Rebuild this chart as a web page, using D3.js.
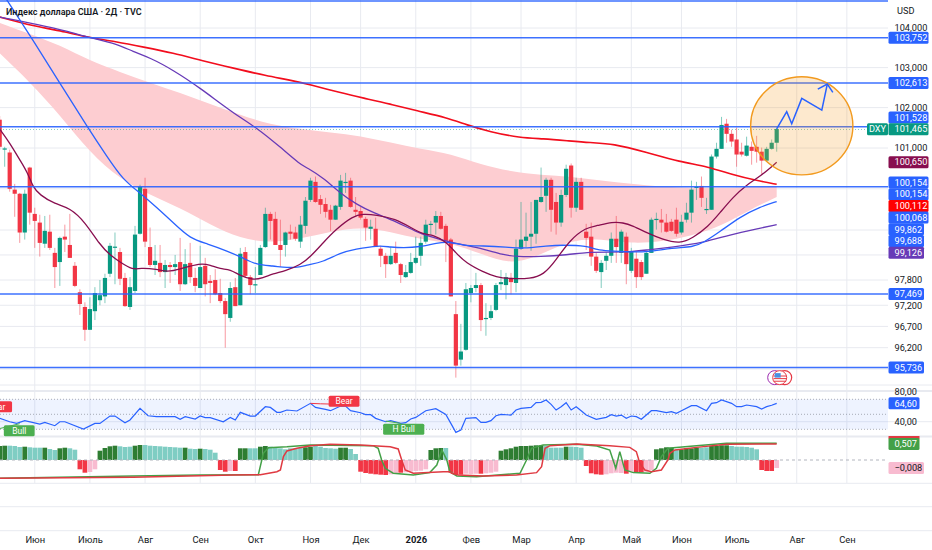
<!DOCTYPE html>
<html>
<head>
<meta charset="utf-8">
<script src="https://cdn.jsdelivr.net/npm/d3@7"></script>
<style>
  html, body { margin: 0; padding: 0; background: #fff; }
  text { font-family: Roboto, "Noto Sans", sans-serif; fill: #131722; }
</style>
</head>
<body>
<div id="chart"></div>
<script>
// bars are numbered from the first one in view
const firstBar = -2

const opens = [
  101.70,100.96,100.89,99.98,99.88,98.94,100.52,99.39,99.18,98.67,
  98.96,98.45,98.23,98.84,98.64,98.14,97.51,97.16,96.62,97.06,
  97.32,97.41,97.95,98.59,98.47,97.85,97.16,97.54,98.91,100.00,
  98.59,98.16,98.21,97.99,98.16,98.11,98.23,97.70,98.21,97.85,
  97.61,98.14,97.78,97.80,97.49,97.30,96.90,97.63,97.20,98.47,
  97.87,97.68,97.92,98.59,99.39,99.27,98.64,98.64,98.96,98.94,
  98.72,99.10,99.73,100.17,99.75,99.63,99.49,99.25,99.56,100.16,
  100.20,99.49,99.46,99.27,99.03,99.03,98.55,98.38,98.18,98.45,
  98.18,97.87,97.97,98.21,98.38,98.72,99.13,99.18,99.34,99.10,
  98.77,96.99,95.92,96.15,97.49,97.61,97.68,96.89,96.90,97.09,
  97.70,97.68,97.85,97.73,98.55,98.74,98.84,98.91,99.68,99.83,
  100.22,99.68,99.18,99.85,100.57,99.54,100.17,98.96,98.84,98.36,
  97.99,98.26,98.38,98.79,98.45,98.84,98.02,98.31,98.23,97.95,
  98.45,99.25,99.25,99.18,99.20,99.25,98.94,99.25,99.42,100.03,
  100.07,99.50,99.49,100.79,100.98,101.60,101.35,101.21,100.91,100.81,
  101.03,101.03,100.91,100.69,100.98,101.13,
]
const closes = [
  101.03,100.99,100.00,99.88,98.94,99.88,99.42,99.22,98.69,98.98,
  98.57,98.11,98.81,98.77,98.33,97.66,97.23,96.62,97.11,97.49,
  97.44,97.85,98.62,98.60,97.83,97.18,97.63,98.89,100.05,98.72,
  98.16,98.26,97.99,98.16,98.11,98.18,97.70,98.18,97.87,97.66,
  98.11,97.70,97.73,97.46,97.30,96.99,97.61,97.18,98.43,97.90,
  97.68,97.70,98.57,99.39,99.22,98.64,98.52,98.94,98.91,98.79,
  99.13,99.71,100.20,99.68,99.61,99.44,99.25,99.59,100.20,100.17,
  99.56,99.44,99.30,99.06,99.08,98.59,98.38,98.18,98.38,98.21,
  97.92,97.99,98.23,98.33,98.69,99.13,99.15,99.34,99.03,98.74,
  97.41,95.78,96.11,97.58,97.61,97.68,96.85,96.90,97.06,97.68,
  97.75,97.87,97.75,98.55,98.77,98.84,98.91,99.73,99.80,100.22,
  99.49,99.18,99.85,100.49,99.54,100.17,99.49,98.81,98.36,98.02,
  98.21,98.38,98.79,98.59,98.96,98.18,98.47,97.87,97.87,98.45,
  99.25,99.27,99.18,98.96,98.98,98.91,99.20,99.42,99.98,100.05,
  99.78,99.51,100.79,100.98,101.57,101.35,101.16,100.84,100.84,101.06,
  100.93,100.91,100.69,100.98,101.13,101.47,
]
const highs = [
  101.79,101.03,100.96,100.12,99.90,99.98,100.54,99.54,99.37,99.34,
  99.37,98.57,98.84,99.13,99.39,98.23,97.58,97.27,97.39,97.63,
  97.80,97.95,98.69,98.94,98.57,97.97,97.87,99.10,100.10,100.27,
  99.06,98.64,98.64,98.28,98.23,98.40,98.81,98.54,98.69,98.09,
  98.62,98.33,97.92,98.06,97.83,97.37,97.75,97.85,98.57,98.59,
  97.92,98.11,98.64,99.54,99.44,99.44,99.25,98.96,99.13,99.08,
  99.34,99.80,100.27,100.30,99.85,99.78,99.61,99.61,100.34,100.39,
  100.27,99.80,99.56,99.32,99.25,99.30,98.62,98.45,98.59,98.72,
  98.21,98.16,98.45,98.84,98.84,99.25,99.22,99.46,99.44,99.15,
  98.81,97.30,96.76,97.73,97.68,97.97,97.73,97.25,97.20,97.73,
  98.04,97.97,97.97,98.77,99.68,99.42,99.68,99.73,100.52,100.27,
  100.27,99.90,99.98,100.59,100.62,100.27,100.27,99.15,99.18,98.45,
  98.28,98.47,98.94,99.34,99.01,98.94,98.57,98.47,98.28,98.47,
  99.30,99.42,99.51,99.39,99.27,99.54,99.37,99.66,100.20,100.17,
  100.30,99.78,100.84,101.13,101.77,101.72,101.45,101.50,101.13,101.28,
  101.16,101.30,101.01,101.03,101.21,101.50,
]
const lows = [
  100.96,100.54,99.93,99.32,98.69,98.77,99.13,98.57,98.36,98.57,
  98.52,97.61,97.66,98.47,98.33,97.63,96.97,96.36,96.62,96.85,
  97.20,97.25,97.87,97.70,97.68,97.16,97.09,97.49,98.89,98.59,
  98.11,97.92,97.87,97.61,97.73,97.92,97.54,97.68,97.73,97.51,
  97.61,97.41,97.25,97.44,97.25,96.20,96.81,97.18,97.20,97.87,
  97.46,97.49,97.92,98.57,98.77,98.64,98.11,98.36,98.77,98.74,
  98.57,98.91,99.68,99.66,99.39,99.30,98.98,99.25,99.49,99.90,
  99.54,99.32,99.25,98.74,98.77,98.59,98.11,97.85,98.16,98.18,
  97.73,97.85,97.95,98.18,98.14,98.67,98.89,98.89,99.01,98.23,
  97.41,95.50,95.78,96.13,97.27,97.51,96.59,96.48,96.85,97.06,
  97.56,97.34,97.46,97.51,98.52,98.59,98.50,98.67,99.66,99.44,
  98.96,98.89,99.08,99.80,99.30,99.44,99.49,98.52,98.14,97.97,
  97.61,98.04,98.21,98.21,98.21,97.70,97.97,97.61,97.80,97.95,
  98.45,99.01,98.94,98.94,98.96,98.84,98.89,99.18,99.18,99.73,
  99.56,99.39,99.49,100.74,100.98,101.13,101.03,100.54,100.79,100.79,
  100.59,100.64,100.37,100.66,100.96,100.91,
]

// moving averages as [bar, price]
const maShort = [[-2,101.47],[0,101.13],[2,100.71],[3.6,100.39],[4.6,100.05],[6,99.85],[9,99.63],[12,99.54],[15,99.20],[18,98.64],[20,98.40],[22,98.23],[24.6,98.04],[26,98.09],[29.4,98.06],[31.4,97.99],[34,98.06],[38,98.21],[40,98.16],[42,98.06],[44,98.06],[46,97.90],[48.5,97.80],[50.5,97.85],[52.5,97.95],[55,98.02],[58,98.16],[60,98.36],[62.5,98.69],[65,99.01],[68.5,99.34],[70.5,99.39],[73,99.37],[77,99.27],[80,99.06],[82.5,98.89],[84.5,98.89],[87,98.72],[89,98.45],[91,98.21],[94.5,97.99],[97,97.87],[100,97.83],[103.8,97.83],[106.5,97.92],[109,98.28],[111.8,98.77],[115,99.06],[117,99.10],[120.3,99.20],[122.3,99.18],[124.3,99.10],[127,98.94],[130.3,98.77],[133.7,98.67],[136.3,98.81],[139.3,99.08],[141.7,99.42],[144.3,99.80],[147,100.10],[149.7,100.30],[153,100.65]]
const maMid = [[-2,104.97],[-0.5,104.71],[4.6,103.70],[10,102.61],[15.6,101.50],[19.4,100.79],[22.6,100.22],[26,99.90],[29.4,99.54],[32.6,99.18],[36,98.79],[39.4,98.67],[43.3,98.50],[46.5,98.33],[49.3,98.16],[52.5,98.14],[55.3,98.09],[58,98.11],[59.3,98.16],[62.5,98.23],[65.9,98.45],[69.3,98.55],[71.9,98.59],[73.9,98.62],[75.9,98.59],[78.5,98.57],[81.8,98.59],[85.2,98.69],[87.8,98.72],[90.4,98.62],[94.4,98.62],[99.2,98.59],[102.4,98.55],[107.2,98.62],[110.4,98.64],[115.2,98.62],[117.2,98.52],[119.2,98.50],[123.7,98.47],[127.1,98.47],[132.3,98.57],[136.3,98.59],[138.3,98.69],[141.7,98.96],[145.7,99.32],[149.7,99.56],[153,99.69]]
const maLong = [[-2,104.28],[6,104.08],[11.4,103.92],[16,103.75],[21.4,103.60],[24.6,103.40],[28,103.25],[32.6,102.94],[38,102.49],[44.5,101.87],[49.3,101.50],[53.9,101.03],[58,100.59],[59.3,100.52],[62.5,100.27],[65.9,99.90],[69.3,99.61],[72.5,99.42],[77.3,99.20],[81.2,98.94],[85.8,98.77],[90.4,98.64],[94.4,98.55],[98.4,98.40],[101.2,98.36],[105.8,98.36],[111.2,98.40],[115.2,98.47],[119.2,98.47],[123.7,98.47],[127.1,98.52],[132.3,98.59],[138.3,98.69],[143.7,98.89],[149.1,99.03],[153,99.13]]
const maSlow = [[-2,104.28],[4.6,104.05],[11.4,103.90],[16,103.75],[21.4,103.65],[26.6,103.52],[32.6,103.37],[38.5,103.17],[44.5,102.99],[51.3,102.79],[55.9,102.69],[60,102.57],[66,102.37],[70.5,102.24],[75.9,102.09],[81.2,101.92],[87.2,101.75],[91.2,101.57],[95.8,101.40],[101.8,101.25],[106.4,101.23],[111.2,101.18],[115.8,101.13],[120.3,101.11],[127.1,100.89],[133.7,100.66],[139.3,100.54],[144.3,100.34],[149.1,100.20],[153,100.11]]

// pink cloud: bar, top, bottom
const cloudBars = [-2,4,10,16,22,28,34,40,46,52,58,64,70,76,82,88,94,100,106,112,118,124,130,136,142,148,153]
const cloudTop = [104.13,103.85,103.57,103.17,102.89,102.62,102.37,102.09,101.82,101.58,101.47,101.38,101.30,101.13,100.98,100.86,100.59,100.42,100.34,100.30,100.20,100.12,100.05,100.02,100.02,100.05,100.05]
const cloudBottom = [103.36,102.64,101.82,100.89,100.24,99.85,99.54,99.13,98.79,98.69,98.79,98.96,99.08,98.96,98.77,98.69,98.43,98.16,98.40,98.77,98.79,98.67,98.72,98.86,99.10,99.51,99.80]

const levels = [104.69,103.752,102.613,101.528,100.05,97.469,95.736]
const projection = [[153,101.47],[155,101.90],[156,101.60],[158,102.23],[162,101.94],[163.1,102.59]]
const arrowHead = [[161.2,102.46],[163.1,102.59],[164.2,102.38]]
const targetZone = {barFrom: 147.8, barTo: 168.2, priceTop: 102.77, priceBottom: 100.34}

const priceTicks = [104,103,102,101,97.8,97.2,96.7,96.2]
const priceGrid = [104,103,102,101,100,99,98.4,97.8,97.2,96.7,96.2,95.7]

// price scale tags: value, text on right, kind
const priceTags = [103.752,102.613,101.528,101.465,100.650,100.154,100.154,100.112,100.068,99.862,99.688,99.126,97.469,95.736]
const priceTagKinds = ['level','level','level','last','short','level','level','slow','level','mid','mid','long','level','level']

const monthBars = [5,16,27,38,49,60,70,81,92,102,113,124,134,145,157,167]
const monthNames = ['Июн','Июль','Авг','Сен','Окт','Ноя','Дек','2026','Фев','Мар','Апр','Май','Июн','Июль','Авг','Сен']

const rsi = [[-2,44.6],[0,40.1],[1.4,37.9],[3,41.5],[6,37],[7,39.3],[9,34.8],[10,40.1],[11,40.1],[14.7,30.4],[17,37.9],[18,37.9],[20,47.7],[21,47.7],[23,38.8],[24,42.4],[26,57.9],[27.6,48.1],[29.3,46.8],[33,46.8],[34,43.3],[35,46.8],[37,43.7],[38,47.7],[39,45.5],[40,45.5],[42.6,40.1],[44,45.9],[45,42.4],[46,52.6],[48,47.7],[49,47.7],[51,60.1],[52,59.2],[53.3,52.6],[54,52.6],[55.3,55.7],[57.3,54.4],[60,64.6],[61,59.2],[63,56.6],[64,54.8],[66,61],[67,61],[68,54.8],[70,52.1],[71,49.5],[72,49.5],[73,44.6],[75,40.1],[76,41.5],[78,37.9],[79,38.8],[80,43.7],[81,45.9],[83,54.8],[85,57.5],[87,49.9],[88,37.9],[89,25.9],[90,29],[91,44.6],[93,45.5],[94,39.3],[95,39.3],[96,41.5],[97,48.1],[98,49.9],[100,49],[101,55.7],[102,57.9],[104,59.2],[105,65.5],[106,65.9],[107,69],[108,63.3],[109,55.7],[110,60.1],[111,65.5],[112,55.7],[113,60.1],[114,54.8],[115,49],[117,43.3],[119,45.9],[120,49.5],[121,47.7],[122,49],[123,44.6],[124,47.7],[125,46.8],[126,43.3],[128,54.8],[129,54.8],[131,52.2],[132,53.5],[133,51.3],[134,54.8],[136,61.5],[137,61.5],[139,54.8],[140,64.6],[141,65.5],[142,69.1],[144,64.6],[145,60.2],[146,60.2],[147,62.4],[149,60.2],[150,57.1],[151,60.2],[152,62],[153,64.6]]
const rsiTicks = [80,40]
const rsiBands = [70,50,30]

const histValues = [
  .014,.0143,.0143,.014,.013,.0133,.0127,.0123,.0123,.0123,
  .011,.010,.0117,.0123,.0117,.0103,-.0093,-.0127,-.012,-.0093,
  .0093,.012,.0137,.0143,.0137,.013,.0133,.0143,.015,.015,
  .0143,.014,.0137,.0133,.013,.0127,.0123,.0123,.0113,.011,
  .0113,.011,.0103,.0073,-.010,-.0117,-.011,-.011,.0117,.0117,
  .0117,.0117,.0133,.014,.0133,.0123,.0117,.0107,.0117,.0117,
  .012,.0127,.0133,.014,.0133,.012,.0117,.0113,.0123,.0123,
  .011,.006,-.0117,-.013,-.0137,-.0143,-.0147,-.015,-.0143,-.0133,
  -.0127,-.0123,-.0117,-.011,-.0107,-.0093,.010,.0117,.012,.012,
  -.0127,-.0143,-.0147,-.0137,-.014,-.0137,-.0137,-.0133,-.0127,-.0117,
  .0093,.0107,.0117,.0133,.014,.014,.0143,.0147,.0147,.014,
  .0123,.0123,.0123,.0133,.0133,.013,.0123,-.006,-.0133,-.0143,
  -.0147,-.0143,-.0133,-.0127,-.013,-.0137,-.0117,-.0123,-.0123,-.0117,
  -.010,.0107,.0117,.0127,.0123,.010,.0107,.0117,.0117,.0123,
  .0123,.0127,.014,.014,.0147,.0147,.014,.0133,.0133,.013,
  .0123,.0107,-.010,-.011,-.011,-.008,
]
// u strong up, f fading up, d strong down, e easing down
const histKinds = (
  'uufffufffu' + 'ffuuffddee' + 'uuuufffuuf' + 'fffffffuff' + 'ufffddeduu' +
  'ffuuffffff' + 'fuufffffuu' + 'ffddddddee' + 'deeeeeuuuf' + 'dddeeedeee' +
  'uuuuuuuuuf' + 'fffufffddd' + 'deeeededde' + 'euuuufuuuu' + 'ffuuuuffff' + 'ffddde'
).split('')

const osciRed = [[-2,-.58],[24.6,-.55],[44.6,-.475],[50,-.465],[53.3,-.37],[54,-.316],[54.6,.106],[55.3,.286],[57.3,.37],[60,.455],[63.9,.497],[69.9,.476],[75.9,.42],[77.5,.35],[78.2,0],[78.9,-.316],[80.5,-.42],[86.5,-.369],[87.7,-.369],[88.2,-.42],[89.5,-.475],[94.5,-.506],[101.1,-.475],[105.1,-.4],[106.1,-.21],[106.8,.37],[107.8,.455],[113.1,.507],[119.7,.455],[123.7,.40],[125,.265],[125.7,-.105],[126.7,-.316],[128,-.369],[130,-.316],[131.3,0],[131.7,.212],[132.7,.318],[137,.40],[143,.497],[153,.507]]
const osciGreen = [[-2,-.58],[24.6,-.51],[38,-.475],[49.6,-.465],[50.6,.21],[51.6,.39],[55.3,.42],[60,.476],[72.5,.455],[73.5,.37],[74.2,0],[74.9,-.263],[76.5,-.42],[80.5,-.475],[83.8,-.4],[85.2,-.158],[86.2,.317],[87.2,0],[87.8,-.369],[89.2,-.506],[93.1,-.527],[101.8,-.42],[103.1,0],[104.1,.37],[106.4,.476],[113.1,.497],[117.1,.44],[119.7,.317],[120.9,-.263],[121.7,.265],[122.7,-.316],[124.4,-.40],[127.7,-.42],[129,-.263],[130,.107],[131.3,.37],[137,.455],[143,.53],[153,.53]]

const rsiNotes = [
  {text: 'Bear', bar: -2.6, value: 60, kind: 'bear'},
  {text: 'Bull', bar: 1.9, value: 28, kind: 'bull'},
  {text: 'Bear', bar: 66.7, value: 67.5, kind: 'bear'},
  {text: 'H Bull', bar: 78.6, value: 30, kind: 'bull'},
]
const bearLine = [[60,64.6],[62,64],[65,63.5]]
const bullLine = [[-2,31],[2,37.5]]
const hullLine = [[75,41],[78,37.9]]

const W = 932
const H = 550
const plotRight = 888

const colors = {
  up: '#089981', down: '#f23645', level: '#2962ff', grid: '#e8eaf0',
  short: '#880e4f', mid: '#2962ff', long: '#673ab7', slow: '#f20d1d',
  cloud: '#fdcdd1',
}
const histColors = {u: '#2e7d32', f: '#7fcdc3', d: '#f23645', e: '#f8bbd0'}
const tagColors = {level: '#2962ff', last: '#089981', short: '#880e4f', slow: '#ff0000', mid: '#2962ff', long: '#673ab7'}

const x = d3.scaleLinear().domain([0, 100]).range([9.7, 511])
const yPrice = d3.scaleLog().domain([104, 95.736]).range([28, 367.5])
const yRsi = d3.scaleLinear().domain([70, 30]).range([399.3, 429.3])
const yHist = d3.scaleLinear().domain([0, -0.008]).range([460, 468])
const yOsci = d3.scaleLinear().domain([0, 0.507]).range([460, 444])

const comma = (v, digits) => d3.format(`.${digits}f`)(v).replace('.', ',')

const svg = d3.select('#chart').append('svg').attr('width', W).attr('height', H).style('display', 'block')

svg.append('clipPath').attr('id', 'plot').append('rect').attr('width', plotRight).attr('height', H)

// grids
const grid = svg.append('g').attr('stroke', colors.grid)
grid.selectAll('line.h').data(priceGrid).enter().append('line')
  .attr('x1', 0).attr('x2', plotRight)
  .attr('y1', d => yPrice(d)).attr('y2', d => yPrice(d))
grid.selectAll('line.v').data(monthBars).enter().append('line')
  .attr('x1', d => x(d)).attr('x2', d => x(d))
  .attr('y1', 0).attr('y2', 483)
;[385, 391, 421.7, 436.5, 483.3, 506.7, 530.7].forEach(v => {
  grid.append('line').attr('x1', 0).attr('x2', W).attr('y1', v).attr('y2', v)
    .attr('stroke-width', v === 391 || v === 436.5 ? 2 : 1)
})

const plot = svg.append('g').attr('clip-path', 'url(#plot)')

// cloud under everything
const cloudArea = d3.area()
  .x((d, i) => x(d))
  .y0((d, i) => yPrice(cloudBottom[i]))
  .y1((d, i) => yPrice(cloudTop[i]))
  .curve(d3.curveBasis)
plot.append('path').attr('d', cloudArea(cloudBars)).attr('fill', colors.cloud)

// candles
const bars = opens.map((o, i) => ({bar: firstBar + i, o, c: closes[i], h: highs[i], l: lows[i]}))
const candle = plot.selectAll('g.candle').data(bars).enter().append('g').attr('class', 'candle')
candle.append('line')
  .attr('x1', d => x(d.bar)).attr('x2', d => x(d.bar))
  .attr('y1', d => yPrice(d.h)).attr('y2', d => yPrice(d.l))
  .attr('stroke', d => (d.c >= d.o ? colors.up : colors.down))
  .attr('stroke-opacity', 0.5)
candle.append('rect')
  .attr('x', d => x(d.bar) - 2.1).attr('width', 4.2)
  .attr('y', d => yPrice(Math.max(d.o, d.c)))
  .attr('height', d => Math.max(1.2, yPrice(Math.min(d.o, d.c)) - yPrice(Math.max(d.o, d.c))))
  .attr('fill', d => (d.c >= d.o ? colors.up : colors.down))

// moving averages
const priceLine = d3.line().x(d => x(d[0])).y(d => yPrice(d[1])).curve(d3.curveBasis)
const drawMa = (data, color, width) =>
  plot.append('path').attr('d', priceLine(data)).attr('fill', 'none')
    .attr('stroke', color).attr('stroke-width', width)
drawMa(maSlow, colors.slow, 1.6)
drawMa(maLong, colors.long, 1.3)
drawMa(maMid, colors.mid, 1.3)
drawMa(maShort, colors.short, 1.3)

// horizontal levels
plot.selectAll('line.level').data(levels).enter().append('line')
  .attr('x1', 0).attr('x2', plotRight)
  .attr('y1', d => yPrice(d)).attr('y2', d => yPrice(d))
  .attr('stroke', colors.level).attr('stroke-opacity', 0.9).attr('stroke-width', 1.5)

// last price dotted line
plot.append('line')
  .attr('x1', 0).attr('x2', plotRight)
  .attr('y1', yPrice(closes[closes.length - 1]) + 0.5).attr('y2', yPrice(closes[closes.length - 1]) + 0.5)
  .attr('stroke', colors.up).attr('stroke-opacity', 0.5).attr('stroke-dasharray', '1 2')

// target zone
const zoneX = (x(targetZone.barFrom) + x(targetZone.barTo)) / 2
const zoneY = (yPrice(targetZone.priceTop) + yPrice(targetZone.priceBottom)) / 2
plot.append('ellipse')
  .attr('cx', zoneX).attr('cy', zoneY)
  .attr('rx', (x(targetZone.barTo) - x(targetZone.barFrom)) / 2)
  .attr('ry', (yPrice(targetZone.priceBottom) - yPrice(targetZone.priceTop)) / 2)
  .attr('fill', '#f59d22').attr('fill-opacity', 0.22)
  .attr('stroke', '#f29a1e').attr('stroke-width', 1.4)

const straight = d3.line().x(d => x(d[0])).y(d => yPrice(d[1]))
plot.selectAll('path.proj').data([projection, arrowHead]).enter().append('path')
  .attr('d', straight).attr('fill', 'none')
  .attr('stroke', '#2962ff').attr('stroke-width', 1.5)

// news icon
const icon = svg.append('g').attr('transform', `translate(${x(153)}, ${yPrice(95.5)})`)
icon.append('circle').attr('cx', -2).attr('cy', 0).attr('r', 7).attr('fill', '#fff').attr('stroke', '#9c27b0').attr('stroke-width', 1)
icon.append('circle').attr('cx', 8).attr('cy', 0).attr('r', 7).attr('fill', '#fff').attr('stroke', '#e53945').attr('stroke-width', 1.2)
icon.append('circle').attr('cx', 3).attr('cy', 0).attr('r', 7).attr('fill', '#fff').attr('stroke', '#e53945').attr('stroke-width', 1)
;[-2.6, 0, 2.6].forEach(v => {
  icon.append('line').attr('x1', -3).attr('x2', 9.5).attr('y1', v + 1).attr('y2', v + 1).attr('stroke', '#e53945').attr('stroke-width', 1)
})
icon.append('rect').attr('x', -2).attr('y', -4.5).attr('width', 6).attr('height', 4.5).attr('fill', '#4a90e2')

// RSI pane
plot.append('rect')
  .attr('x', 0).attr('width', plotRight)
  .attr('y', yRsi(70)).attr('height', yRsi(30) - yRsi(70))
  .attr('fill', '#2962ff').attr('fill-opacity', 0.08)
plot.selectAll('line.rsi').data(rsiBands).enter().append('line')
  .attr('x1', 0).attr('x2', plotRight)
  .attr('y1', d => yRsi(d)).attr('y2', d => yRsi(d))
  .attr('stroke', '#787b86').attr('stroke-opacity', 0.6).attr('stroke-dasharray', '1 2')

const rsiLine = d3.line().x(d => x(d[0])).y(d => yRsi(d[1]))
plot.append('path').attr('d', rsiLine(rsi)).attr('fill', 'none').attr('stroke', '#2962ff').attr('stroke-width', 1.2)
plot.append('path').attr('d', rsiLine(bearLine)).attr('fill', 'none').attr('stroke', colors.down)
plot.append('path').attr('d', rsiLine(bullLine)).attr('fill', 'none').attr('stroke', '#4caf50')
plot.append('path').attr('d', rsiLine(hullLine)).attr('fill', 'none').attr('stroke', '#4caf50')

const note = plot.selectAll('g.note').data(rsiNotes).enter().append('g')
  .attr('transform', d => `translate(${x(d.bar)}, ${yRsi(d.value)})`)
note.append('rect')
  .attr('x', d => -(d.text.length * 2.6 + 5)).attr('y', -5.5)
  .attr('width', d => 2 * (d.text.length * 2.6 + 5)).attr('height', 11).attr('rx', 1.5)
  .attr('fill', d => (d.kind === 'bear' ? colors.down : '#4caf50'))
note.append('text')
  .attr('text-anchor', 'middle').attr('y', 3)
  .style('fill', '#fff').style('font-size', '8.5px')
  .text(d => d.text)

// histogram pane
plot.selectAll('rect.hist').data(histValues).enter().append('rect')
  .attr('x', (d, i) => x(firstBar + i) - 2.35).attr('width', 4.7)
  .attr('y', d => Math.min(yHist(d), yHist(0)))
  .attr('height', d => Math.abs(yHist(d) - yHist(0)))
  .attr('fill', (d, i) => histColors[histKinds[i]])

plot.append('line')
  .attr('x1', 0).attr('x2', plotRight)
  .attr('y1', yHist(0)).attr('y2', yHist(0))
  .attr('stroke', '#b2b5be').attr('stroke-dasharray', '3 3')

const osciLine = d3.line().x(d => x(d[0])).y(d => yOsci(d[1]))
plot.append('path').attr('d', osciLine(osciGreen)).attr('fill', 'none').attr('stroke', '#43a047').attr('stroke-width', 1.5)
plot.append('path').attr('d', osciLine(osciRed)).attr('fill', 'none').attr('stroke', '#e03a42').attr('stroke-width', 1.5)

// price axis
const priceAxis = d3.axisRight(yPrice).tickValues(priceTicks).tickSize(0).tickPadding(6.5)
  .tickFormat(d => comma(d, 3))
const rsiAxis = d3.axisRight(yRsi).tickValues(rsiTicks).tickSize(0).tickPadding(6.5)
  .tickFormat(d => comma(d, 2))
;[[priceAxis], [rsiAxis]].forEach(([axis]) => {
  const g = svg.append('g').attr('transform', `translate(${plotRight}, 0)`).call(axis)
  g.select('.domain').remove()
  g.selectAll('text').style('font-size', '9.2px')
})

svg.append('text').attr('x', 897).attr('y', 14).style('font-size', '9.2px').text('USD')

// tags pushed apart around the last price
const tagStep = 11.7
const lastTag = priceTagKinds.indexOf('last')
const tagY = priceTags.map(d => yPrice(d))
for (let i = lastTag - 1; i >= 0; i--) tagY[i] = Math.min(tagY[i], tagY[i + 1] - tagStep)
for (let i = lastTag + 1; i < tagY.length; i++) tagY[i] = Math.max(tagY[i], tagY[i - 1] + tagStep)

const tagWidth = label => label.length * 4.5 + 8.5
const drawTag = (label, cy, fill, textFill) => {
  const g = svg.append('g')
  g.append('rect').attr('x', 888.5).attr('y', cy - 6).attr('width', tagWidth(label)).attr('height', 12).attr('rx', 1.5).attr('fill', fill)
  g.append('text').attr('x', 894.5).attr('y', cy + 3.2).style('font-size', '9.2px').style('fill', textFill).text(label)
}
priceTags.forEach((d, i) => drawTag(comma(d, 3), tagY[i], tagColors[priceTagKinds[i]], '#fff'))

// DXY tag
svg.append('rect').attr('x', 867).attr('y', tagY[lastTag] - 6).attr('width', 21).attr('height', 12).attr('rx', 1.5).attr('fill', colors.up)
svg.append('text').attr('x', 877.5).attr('y', tagY[lastTag] + 3.2).attr('text-anchor', 'middle')
  .style('font-size', '9.2px').style('fill', '#fff').text('DXY')

// pane value tags
drawTag(comma(rsi[rsi.length - 1][1], 2), yRsi(rsi[rsi.length - 1][1]), '#2962ff', '#fff')
svg.append('rect').attr('x', 888.5).attr('y', 436).attr('width', 31).attr('height', 3).attr('fill', '#e03a42')
drawTag(comma(osciRed[osciRed.length - 1][1], 3), yOsci(osciRed[osciRed.length - 1][1]), '#43a047', '#fff')
drawTag(comma(histValues[histValues.length - 1], 3).replace('-', '−'), yHist(histValues[histValues.length - 1]), '#f8bbd0', '#131722')

// time axis
const timeAxis = d3.axisBottom(x).tickValues(monthBars).tickSize(0).tickPadding(0)
  .tickFormat((d, i) => monthNames[i])
const timeG = svg.append('g').attr('transform', 'translate(0, 536)').call(timeAxis)
timeG.select('.domain').remove()
timeG.selectAll('text')
  .style('font-size', '9.4px')
  .style('font-weight', (d, i) => (monthNames[i] === '2026' ? 700 : 400))

svg.append('text').attr('x', 6).attr('y', 14.5)
  .style('font-size', '9px').style('font-weight', 600)
  .text('Индекс доллара США · 2Д · TVC')
</script>
</body>
</html>
